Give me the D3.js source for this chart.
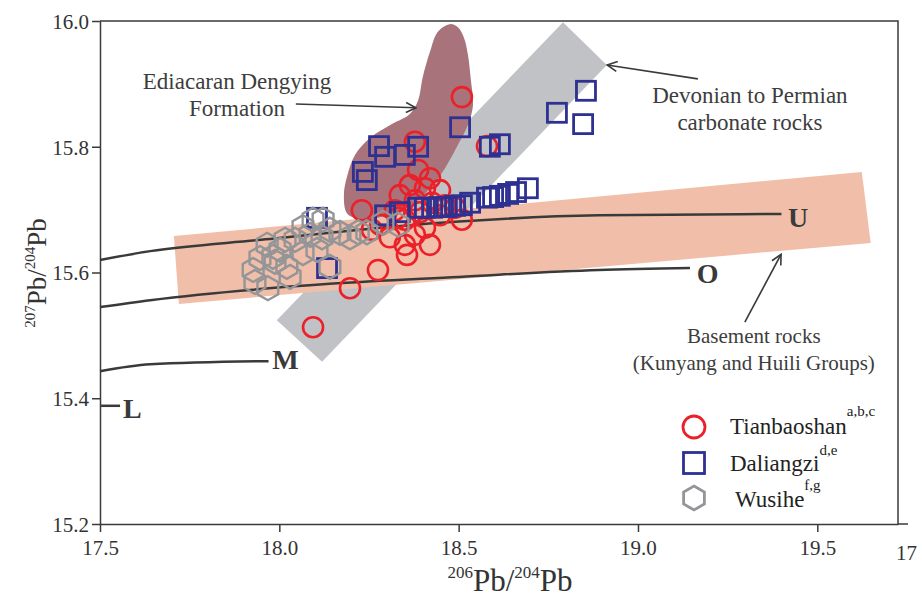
<!DOCTYPE html>
<html lang="en">
  <head>
    <meta charset="UTF-8" />
    <script src="https://d3js.org/d3.v7.min.js"></script>
    <style>
      body { margin: 0; background: #fff; }
      text { font-family: "Liberation Serif", "Times New Roman", serif; }
    </style>
  </head>

  <body>
    <script>
      var width = 922,
        height = 598;

      // axis ticks
      var xTicks = [17.5, 18.0, 18.5, 19.0, 19.5];
      var yTicks = [15.2, 15.4, 15.6, 15.8, 16.0];

      // 206Pb/204Pb, 207Pb/204Pb
      var tianbaoshan = [
        [18.509, 15.879], [18.378, 15.808], [18.579, 15.801], [18.387, 15.763],
        [18.42, 15.75], [18.364, 15.739], [18.406, 15.734], [18.448, 15.731],
        [18.336, 15.723], [18.378, 15.715], [18.426, 15.711], [18.462, 15.707],
        [18.322, 15.699], [18.23, 15.699], [18.392, 15.696], [18.448, 15.691],
        [18.35, 15.684], [18.509, 15.684], [18.281, 15.676], [18.406, 15.671],
        [18.49, 15.703], [18.308, 15.656], [18.378, 15.66], [18.35, 15.644],
        [18.42, 15.644], [18.356, 15.628], [18.275, 15.604], [18.197, 15.575],
        [18.094, 15.513], [18.258, 15.668], [18.331, 15.687]
      ];

      var daliangzi = [
        [18.855, 15.889], [18.774, 15.854], [18.847, 15.836], [18.504, 15.831],
        [18.587, 15.8], [18.615, 15.804], [18.278, 15.801], [18.295, 15.784],
        [18.35, 15.787], [18.387, 15.8], [18.233, 15.76], [18.244, 15.747],
        [18.295, 15.691], [18.336, 15.696], [18.387, 15.703], [18.406, 15.703],
        [18.426, 15.703], [18.448, 15.704], [18.467, 15.704], [18.49, 15.706],
        [18.509, 15.707], [18.532, 15.711], [18.579, 15.719], [18.596, 15.72],
        [18.615, 15.722], [18.638, 15.725], [18.66, 15.728], [18.693, 15.734],
        [18.133, 15.607], [18.105, 15.687]
      ];

      var wusihe = [
        [17.932, 15.585], [17.968, 15.575], [17.927, 15.604], [17.946, 15.623],
        [17.966, 15.644], [18.002, 15.636], [17.982, 15.625], [18.021, 15.609],
        [18.03, 15.593], [18.066, 15.631], [18.066, 15.672], [18.094, 15.684],
        [18.122, 15.684], [18.141, 15.668], [18.169, 15.663], [18.141, 15.609],
        [18.105, 15.636], [18.044, 15.652], [18.016, 15.652], [18.086, 15.66],
        [18.119, 15.656], [18.197, 15.656], [18.22, 15.664], [18.244, 15.664],
        [18.289, 15.679], [18.331, 15.676], [17.988, 15.617]
      ];

      // growth curves
      var curveU = [[17.5, 15.62], [17.64, 15.634], [17.95, 15.652], [18.45, 15.679], [18.89, 15.691], [19.4, 15.693]];
      var curveO = [[17.5, 15.545], [17.64, 15.556], [18.14, 15.582], [18.5, 15.593], [18.89, 15.604], [19.145, 15.607]];
      var curveM = [[17.5, 15.443], [17.64, 15.454], [17.97, 15.459]];
      var curveL = [[17.503, 15.388], [17.556, 15.388]];

      // fields
      var carbonateBand = [[17.993, 15.524], [18.119, 15.458], [18.913, 15.93], [18.791, 15.998]];
      var basementBand = [[17.706, 15.658], [19.624, 15.76], [19.649, 15.647], [17.72, 15.55]];
      var dengyingField = [
        [18.476, 15.995], [18.498, 15.99], [18.515, 15.973], [18.526, 15.946],
        [18.534, 15.906], [18.54, 15.866], [18.526, 15.835], [18.498, 15.803],
        [18.462, 15.766], [18.42, 15.734], [18.364, 15.705], [18.295, 15.69],
        [18.225, 15.685], [18.189, 15.694], [18.18, 15.723], [18.189, 15.753],
        [18.211, 15.787], [18.253, 15.814], [18.314, 15.836], [18.364, 15.852],
        [18.387, 15.874], [18.4, 15.911], [18.42, 15.951], [18.442, 15.983]
      ];

      var svg = d3
        .select("body")
        .append("svg")
        .attr("width", width)
        .attr("height", height);

      var x = d3.scaleLinear().domain([17.5, 19.725]).range([100, 898]);
      var y = d3.scaleLinear().domain([15.2, 16.0]).range([524, 21]);

      var line = d3
        .line()
        .x(function (d) { return x(d[0]); })
        .y(function (d) { return y(d[1]); });

      // fields
      svg.append("path")
        .attr("d", line(carbonateBand) + "Z")
        .attr("fill", "#c1c2c5");
      svg.append("path")
        .attr("d", line(basementBand) + "Z")
        .attr("fill", "#f1bfa9");
      svg.append("path")
        .attr("d", line.curve(d3.curveCatmullRomClosed)(dengyingField))
        .attr("fill", "#a9737b");
      line.curve(d3.curveLinear);

      // growth curves
      var smooth = d3
        .line()
        .x(function (d) { return x(d[0]); })
        .y(function (d) { return y(d[1]); })
        .curve(d3.curveMonotoneX);
      [curveU, curveO, curveM, curveL].forEach(function (c) {
        svg.append("path")
          .attr("d", smooth(c))
          .attr("fill", "none")
          .attr("stroke", "#3a3a3a")
          .attr("stroke-width", 2.5);
      });

      var curveLabels = [
        { t: "U", x: 19.418, y: 15.672 },
        { t: "O", x: 19.164, y: 15.583 },
        { t: "M", x: 17.98, y: 15.447 },
        { t: "L", x: 17.564, y: 15.369 }
      ];
      svg.selectAll(".clab")
        .data(curveLabels)
        .enter()
        .append("text")
        .attr("x", function (d) { return x(d.x); })
        .attr("y", function (d) { return y(d.y); })
        .attr("font-size", 28)
        .attr("font-weight", "bold")
        .attr("fill", "#3a3a3a")
        .text(function (d) { return d.t; });

      // markers
      var red = "#ec2028", blue = "#2e3192", grey = "#939598";

      function hexPath(r) {
        var pts = d3.range(6).map(function (i) {
          var a = Math.PI / 3 * i - Math.PI / 2;
          return [r * Math.cos(a), r * Math.sin(a)];
        });
        return "M" + pts.join("L") + "Z";
      }

      svg.append("g")
        .selectAll("circle")
        .data(tianbaoshan)
        .enter()
        .append("circle")
        .attr("cx", function (d) { return x(d[0]); })
        .attr("cy", function (d) { return y(d[1]); })
        .attr("r", 10)
        .attr("fill", "none")
        .attr("stroke", red)
        .attr("stroke-width", 2.6);

      svg.append("g")
        .selectAll("rect")
        .data(daliangzi)
        .enter()
        .append("rect")
        .attr("x", function (d) { return x(d[0]) - 9.5; })
        .attr("y", function (d) { return y(d[1]) - 9.5; })
        .attr("width", 19)
        .attr("height", 19)
        .attr("fill", "none")
        .attr("stroke", blue)
        .attr("stroke-width", 2.8);

      svg.append("g")
        .selectAll("path")
        .data(wusihe)
        .enter()
        .append("path")
        .attr("transform", function (d) {
          return "translate(" + x(d[0]) + "," + y(d[1]) + ")";
        })
        .attr("d", hexPath(12))
        .attr("fill", "none")
        .attr("stroke", grey)
        .attr("stroke-width", 2.4);

      // axes
      var xAxis = svg.append("g")
        .attr("transform", "translate(0,524)")
        .call(d3.axisBottom(x).tickValues(xTicks).tickFormat(d3.format(".1f")).tickSize(8).tickSizeOuter(0));
      var yAxis = svg.append("g")
        .attr("transform", "translate(100,0)")
        .call(d3.axisLeft(y).tickValues(yTicks).tickFormat(d3.format(".1f")).tickSize(8).tickSizeOuter(0));
      [xAxis, yAxis].forEach(function (a) {
        a.selectAll("path, line").attr("stroke", "#3a3a3a").attr("stroke-width", 1.5);
        a.selectAll("text")
          .attr("font-size", 21)
          .attr("fill", "#333");
      });
      xAxis.selectAll("text").attr("dy", "0.95em");
      yAxis.selectAll("text").attr("dy", "0.35em").attr("x", -11);

      // frame
      svg.append("path")
        .attr("d", "M" + x(17.5) + "," + y(16.0) + "H" + x(19.725) + "V" + y(15.2) + "h10")
        .attr("fill", "none")
        .attr("stroke", "#3a3a3a")
        .attr("stroke-width", 1.5);
      svg.append("text")
        .attr("x", 896)
        .attr("y", 560)
        .attr("font-size", 21)
        .attr("fill", "#333")
        .text("17");

      // axis titles
      var xt = svg.append("text")
        .attr("x", 510)
        .attr("y", 591)
        .attr("text-anchor", "middle")
        .attr("font-size", 31)
        .attr("fill", "#333");
      xt.append("tspan").attr("font-size", 17).attr("dy", -13).text("206");
      xt.append("tspan").attr("dy", 13).text("Pb/");
      xt.append("tspan").attr("font-size", 17).attr("dy", -13).text("204");
      xt.append("tspan").attr("dy", 13).text("Pb");

      var yt = svg.append("text")
        .attr("transform", "translate(46,273) rotate(-90)")
        .attr("text-anchor", "middle")
        .attr("font-size", 27)
        .attr("fill", "#333");
      yt.append("tspan").attr("font-size", 15).attr("dy", -11).text("207");
      yt.append("tspan").attr("dy", 11).text("Pb/");
      yt.append("tspan").attr("font-size", 15).attr("dy", -11).text("204");
      yt.append("tspan").attr("dy", 11).text("Pb");

      // annotations
      svg.append("defs")
        .append("marker")
        .attr("id", "arr")
        .attr("viewBox", "0 0 12 12")
        .attr("refX", 11)
        .attr("refY", 6)
        .attr("markerWidth", 12)
        .attr("markerHeight", 12)
        .attr("markerUnits", "userSpaceOnUse")
        .attr("orient", "auto")
        .append("path")
        .attr("d", "M1,1L11,6L1,11")
        .attr("fill", "none")
        .attr("stroke", "#3a3a3a")
        .attr("stroke-width", 1.6);

      var notes = [
        { lines: ["Ediacaran Dengying", "Formation"], x: 17.882, y: 15.892, size: 23, from: [18.046, 15.868], to: [18.381, 15.862] },
        { lines: ["Devonian to Permian", "carbonate rocks"], x: 19.312, y: 15.87, size: 23, from: [19.167, 15.908], to: [18.914, 15.93] },
        { lines: ["Basement rocks", "(Kunyang and Huili Groups)"], x: 19.323, y: 15.488, size: 21, from: [19.298, 15.521], to: [19.399, 15.629] }
      ];
      notes.forEach(function (n) {
        var t = svg.append("text")
          .attr("x", x(n.x))
          .attr("y", y(n.y))
          .attr("text-anchor", "middle")
          .attr("font-size", n.size)
          .attr("fill", "#3d3d3d");
        n.lines.forEach(function (s, i) {
          t.append("tspan").attr("x", x(n.x)).attr("dy", i ? 27 : 0).text(s);
        });
        svg.append("line")
          .attr("x1", x(n.from[0])).attr("y1", y(n.from[1]))
          .attr("x2", x(n.to[0])).attr("y2", y(n.to[1]))
          .attr("stroke", "#3a3a3a")
          .attr("stroke-width", 1.6)
          .attr("marker-end", "url(#arr)");
      });

      // legend
      var legend = svg.append("g").attr("transform", "translate(694,0)");
      legend.append("circle").attr("cx", 0).attr("cy", 427).attr("r", 11)
        .attr("fill", "none").attr("stroke", red).attr("stroke-width", 2.8);
      legend.append("rect").attr("x", -10.5).attr("y", 452.5).attr("width", 21).attr("height", 21)
        .attr("fill", "none").attr("stroke", blue).attr("stroke-width", 2.8);
      legend.append("path").attr("transform", "translate(0,498)").attr("d", hexPath(12))
        .attr("fill", "none").attr("stroke", grey).attr("stroke-width", 2.8);

      var legendItems = [
        { name: "Tianbaoshan", sup: "a,b,c", y: 434, x: 36, up: 18 },
        { name: "Daliangzi", sup: "d,e", y: 471, x: 36, up: 16 },
        { name: "Wusihe", sup: "f,g", y: 507, x: 41, up: 17 }
      ];
      legendItems.forEach(function (d) {
        var t = legend.append("text")
          .attr("x", d.x)
          .attr("y", d.y)
          .attr("font-size", 23)
          .attr("fill", "#222");
        t.append("tspan").text(d.name);
        t.append("tspan").attr("font-size", 15).attr("dy", -d.up).text(d.sup);
      });
    </script>
  </body>
</html>
